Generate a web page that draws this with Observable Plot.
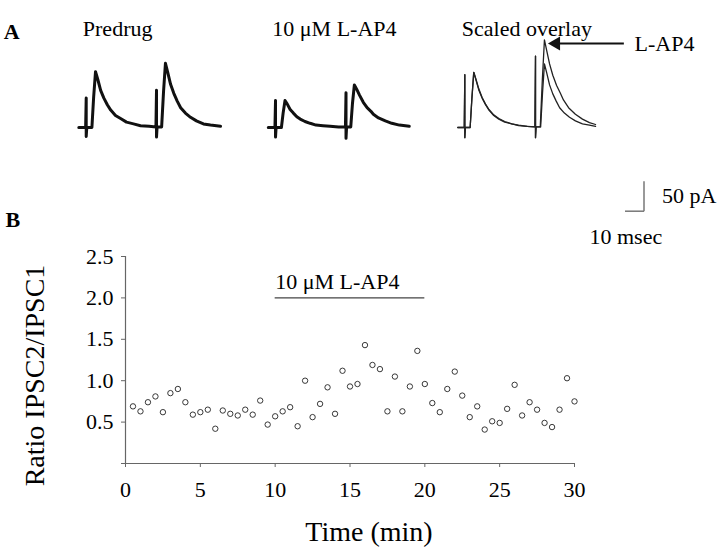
<!DOCTYPE html>
<html>
<head>
<meta charset="utf-8">
<script src="https://cdn.jsdelivr.net/npm/d3@7"></script>
<script src="https://cdn.jsdelivr.net/npm/@observablehq/plot@0.6"></script>
<style>
  html, body { margin: 0; padding: 0; background: #fff; }
  #fig { position: relative; width: 720px; height: 556px; background: #fff; overflow: hidden; }
  #fig > svg, #fig > figure { position: absolute; left: 0; margin: 0; }
  #panelA { top: 0; }
  #panelB { top: 240px; }
  g[aria-label="x-axis tick"], g[aria-label="y-axis tick"] { stroke: #666; }
</style>
</head>
<body>
<div id="fig"></div>
<script>
// ---------------- DATA ----------------
// Panel A: example IPSC pairs (time in ms from trace start, current in pA; upward = outward IPSC)
const panelTitles = ["Predrug", "10 \u03bcM L-AP4", "Scaled overlay"];

const predrugTrace = [
  [0,0],[3.6,0],[3.9,49],[3.9,-15],[4.2,0],[6.9,0],[7.8,50],[8.8,93],[10.0,80],[11.5,62],
  [13.2,49],[15.0,38],[16.8,29],[19.3,20],[22.0,15],[25.1,9],[28.8,6],[32.5,3],[37.0,2],[40.6,1],
  [40.9,62],[40.9,-16],[41.2,1],[43.6,1],[44.6,60],[45.6,107],[46.8,92],[48.3,72],[50.0,57],[51.8,44],
  [53.6,33],[56.1,24],[58.8,17],[61.9,11],[65.6,6],[69.3,4],[74.6,2]
];
const lap4Trace = [
  [0,0],[3.5,0],[3.8,45],[3.8,-16],[4.1,0],[6.9,0],[7.8,24],[8.8,45],[10.0,39],[11.5,30],
  [13.2,24],[15.0,18],[16.8,14],[19.3,10],[22.0,7],[25.1,4],[28.8,3],[32.5,2],[37.0,1],[40.6,1],
  [40.9,58],[40.9,-18],[41.2,1],[43.4,1],[44.3,40],[45.3,71],[46.5,64],[48.0,54],[50.0,42],[52.0,33],
  [54.0,27],[55.3,22],[58.0,16],[61.6,11],[65.0,7],[69.0,4],[74.2,2]
];
const overlayPredrug = [
  [0,0],[3.4,0],[3.7,88],[3.7,-17],[4.0,0],[6.5,0],[7.4,48],[8.4,92],[9.6,79],[11.1,62],
  [12.8,49],[14.6,38],[16.4,29],[18.9,20],[21.6,14],[24.7,9],[28.4,6],[32.0,3],[36.5,2],[40.6,1],
  [40.9,119],[40.9,-17],[41.2,1],[43.6,1],[44.6,58],[45.6,106],[46.8,91],[48.3,71],[50.0,56],[51.8,44],
  [53.6,33],[56.1,24],[58.8,17],[61.9,11],[65.6,6],[69.3,4],[72.5,2]
];
const overlayLap4Scaled = [
  [0,0],[3.4,0],[3.7,88],[3.7,-17],[4.0,0],[6.5,0],[7.4,47],[8.4,92],[9.6,80],[11.1,64],
  [12.8,50],[14.6,39],[16.4,30],[18.9,21],[21.6,15],[24.7,10],[28.4,6],[32.0,4],[36.5,2],[40.6,1],
  [40.9,119],[40.9,-17],[41.2,1],[43.4,1],[44.5,80],[45.6,146],[46.8,128],[48.3,106],[50.0,87],[52.0,70],
  [54.0,57],[55.6,46],[58.3,33],[61.9,22],[65.6,14],[69.3,8],[72.5,5]
];
const arrowLabel = "L-AP4";
const scaleBarMs = 10;
const scaleBarPA = 50;
const scaleBarLabels = ["50 pA", "10 msec"];

// Panel B: paired-pulse ratio over time
const timesMin = [
  0.5,1.0,1.5,2.0,2.5,3.0,3.5,4.0,4.5,5.0,
  5.5,6.0,6.5,7.0,7.5,8.0,8.5,9.0,9.5,10.0,
  10.5,11.0,11.5,12.0,12.5,13.0,13.5,14.0,14.5,15.0,
  15.5,16.0,16.5,17.0,17.5,18.0,18.5,19.0,19.5,20.0,
  20.5,21.0,21.5,22.0,22.5,23.0,23.5,24.0,24.5,25.0,
  25.5,26.0,26.5,27.0,27.5,28.0,28.5,29.0,29.5,30.0
];
const ratios = [
  0.69,0.63,0.74,0.81,0.62,0.85,0.90,0.74,0.59,0.62,
  0.65,0.42,0.64,0.60,0.58,0.65,0.59,0.76,0.47,0.57,
  0.63,0.68,0.45,1.00,0.56,0.72,0.92,0.60,1.12,0.93,
  0.96,1.43,1.19,1.14,0.63,1.05,0.63,0.93,1.36,0.96,
  0.73,0.62,0.90,1.11,0.82,0.56,0.69,0.41,0.51,0.49,
  0.66,0.95,0.58,0.74,0.65,0.49,0.44,0.65,1.03,0.75
];
const drugLabel = "10 \u03bcM L-AP4";
const drugStart = 10;
const drugEnd = 20;
const drugLevel = 2.0;
const xTicks = [0, 5, 10, 15, 20, 25, 30];
const yTicks = [0, 0.5, 1.0, 1.5, 2.0, 2.5];
const xLabel = "Time (min)";
const yLabel = "Ratio IPSC2/IPSC1";

// ---------------- BUILD ----------------
const FONT = "'Liberation Serif', 'Times New Roman', serif";
const rows = [];
function addTrace(panel, series, pts) { for (const [t, pA] of pts) rows.push({panel, series, t, pA}); }
addTrace(panelTitles[0], "single", predrugTrace);
addTrace(panelTitles[1], "single", lap4Trace);
addTrace(panelTitles[2], "predrug", overlayPredrug);
addTrace(panelTitles[2], "lap4", overlayLap4Scaled);

const P0 = () => panelTitles[0];
const P2 = () => panelTitles[2];

const plotA = Plot.plot({
  width: 720, height: 250,
  marginLeft: 78.3, marginRight: 120.2, marginTop: 0, marginBottom: 0,
  style: {background: "transparent", fontFamily: FONT, fontSize: "22px", color: "black"},
  fx: {domain: panelTitles, paddingInner: 0.248, paddingOuter: 0, round: false, axis: null},
  x: {domain: [0, 75], axis: null},
  y: {domain: [-205, 211.67], axis: null},
  marks: [
    Plot.line(rows.filter(d => d.series === "single"), {fx: "panel", x: "t", y: "pA", stroke: "#111", strokeWidth: 3, strokeLinejoin: "round"}),
    Plot.line(rows.filter(d => d.series !== "single"), {fx: "panel", x: "t", y: "pA", z: "series", stroke: "#222", strokeWidth: 1.3}),
    Plot.text(panelTitles, {fx: d => d, text: d => d, frameAnchor: "top-left", textAnchor: "start", dx: 4, dy: 20, fontSize: 22}),
    Plot.text(["A"], {fx: P0, text: d => d, frameAnchor: "top-left", textAnchor: "middle", dx: -67, dy: 23, fontSize: 22, fontWeight: "bold"}),
    Plot.text(["B"], {fx: P0, text: d => d, frameAnchor: "top-left", textAnchor: "middle", dx: -66, dy: 211, fontSize: 22, fontWeight: "bold"}),
    // arrow pointing at the scaled L-AP4 second IPSC
    Plot.link([arrowLabel], {fx: P2, x1: 53.8, x2: 87.4, y1: 140, y2: 140, stroke: "#111", strokeWidth: 2.2}),
    Plot.dot([arrowLabel], {fx: P2, x: 51.7, y: 140, symbol: "triangle", r: 5.2, rotate: -90, fill: "#111", stroke: "none"}),
    Plot.text([arrowLabel], {fx: P2, x: 93, y: 140, text: d => d, textAnchor: "start", fontSize: 22}),
    // scale bar
    Plot.link([scaleBarMs], {fx: P2, x1: d => 98 - d, x2: 98, y1: -139.5, y2: -139.5, stroke: "#777", strokeWidth: 1.5}),
    Plot.link([scaleBarPA], {fx: P2, x1: 98, x2: 98, y1: -139.5, y2: d => -139.5 + d, stroke: "#777", strokeWidth: 1.5}),
    Plot.text([scaleBarLabels[0]], {fx: P2, x: 98, y: -139.5 + scaleBarPA / 2, text: d => d, textAnchor: "start", dx: 18, fontSize: 22}),
    Plot.text([scaleBarLabels[1]], {fx: P2, x: 98 - scaleBarMs, y: -139.5, text: d => d, textAnchor: "start", dx: -35.5, dy: 26, fontSize: 22})
  ]
});
plotA.id = "panelA";

const points = timesMin.map((t, i) => ({t, r: ratios[i]}));

const plotB = Plot.plot({
  width: 720, height: 316,
  marginLeft: 125, marginRight: 146, marginTop: 16, marginBottom: 93,
  style: {background: "transparent", fontFamily: FONT, fontSize: "22px", color: "black"},
  x: {domain: [0, 30], ticks: xTicks, tickSize: 4, tickPadding: 14, label: null, tickFormat: d => String(d)},
  y: {domain: [0, 2.5], ticks: yTicks, tickSize: 4, tickPadding: 8, label: null, tickFormat: d => d === 0 ? "" : d.toFixed(1)},
  marks: [
    Plot.ruleY([0], {x1: 0, x2: 30, stroke: "#666", strokeWidth: 1.2}),
    Plot.ruleX([0], {y1: 0, y2: 2.5, stroke: "#666", strokeWidth: 1.2}),
    Plot.ruleY([drugLevel], {x1: drugStart, x2: drugEnd, stroke: "#444", strokeWidth: 1.2}),
    Plot.text([drugLabel], {x: drugStart, y: drugLevel, text: d => d, textAnchor: "start", dy: -15.5, fontSize: 22}),
    Plot.dot(points, {x: "t", y: "r", r: 2.7, stroke: "#222", strokeWidth: 0.9, fill: "white"}),
    Plot.text([yLabel], {text: d => d, frameAnchor: "left", textAnchor: "middle", rotate: -90, dx: -90, dy: 15.5, fontSize: 28}),
    Plot.text([xLabel], {text: d => d, frameAnchor: "bottom", textAnchor: "middle", dx: 19, dy: 77, fontSize: 28})
  ]
});
plotB.id = "panelB";

const fig = document.getElementById("fig");
fig.appendChild(plotA);
fig.appendChild(plotB);
</script>
</body>
</html>
